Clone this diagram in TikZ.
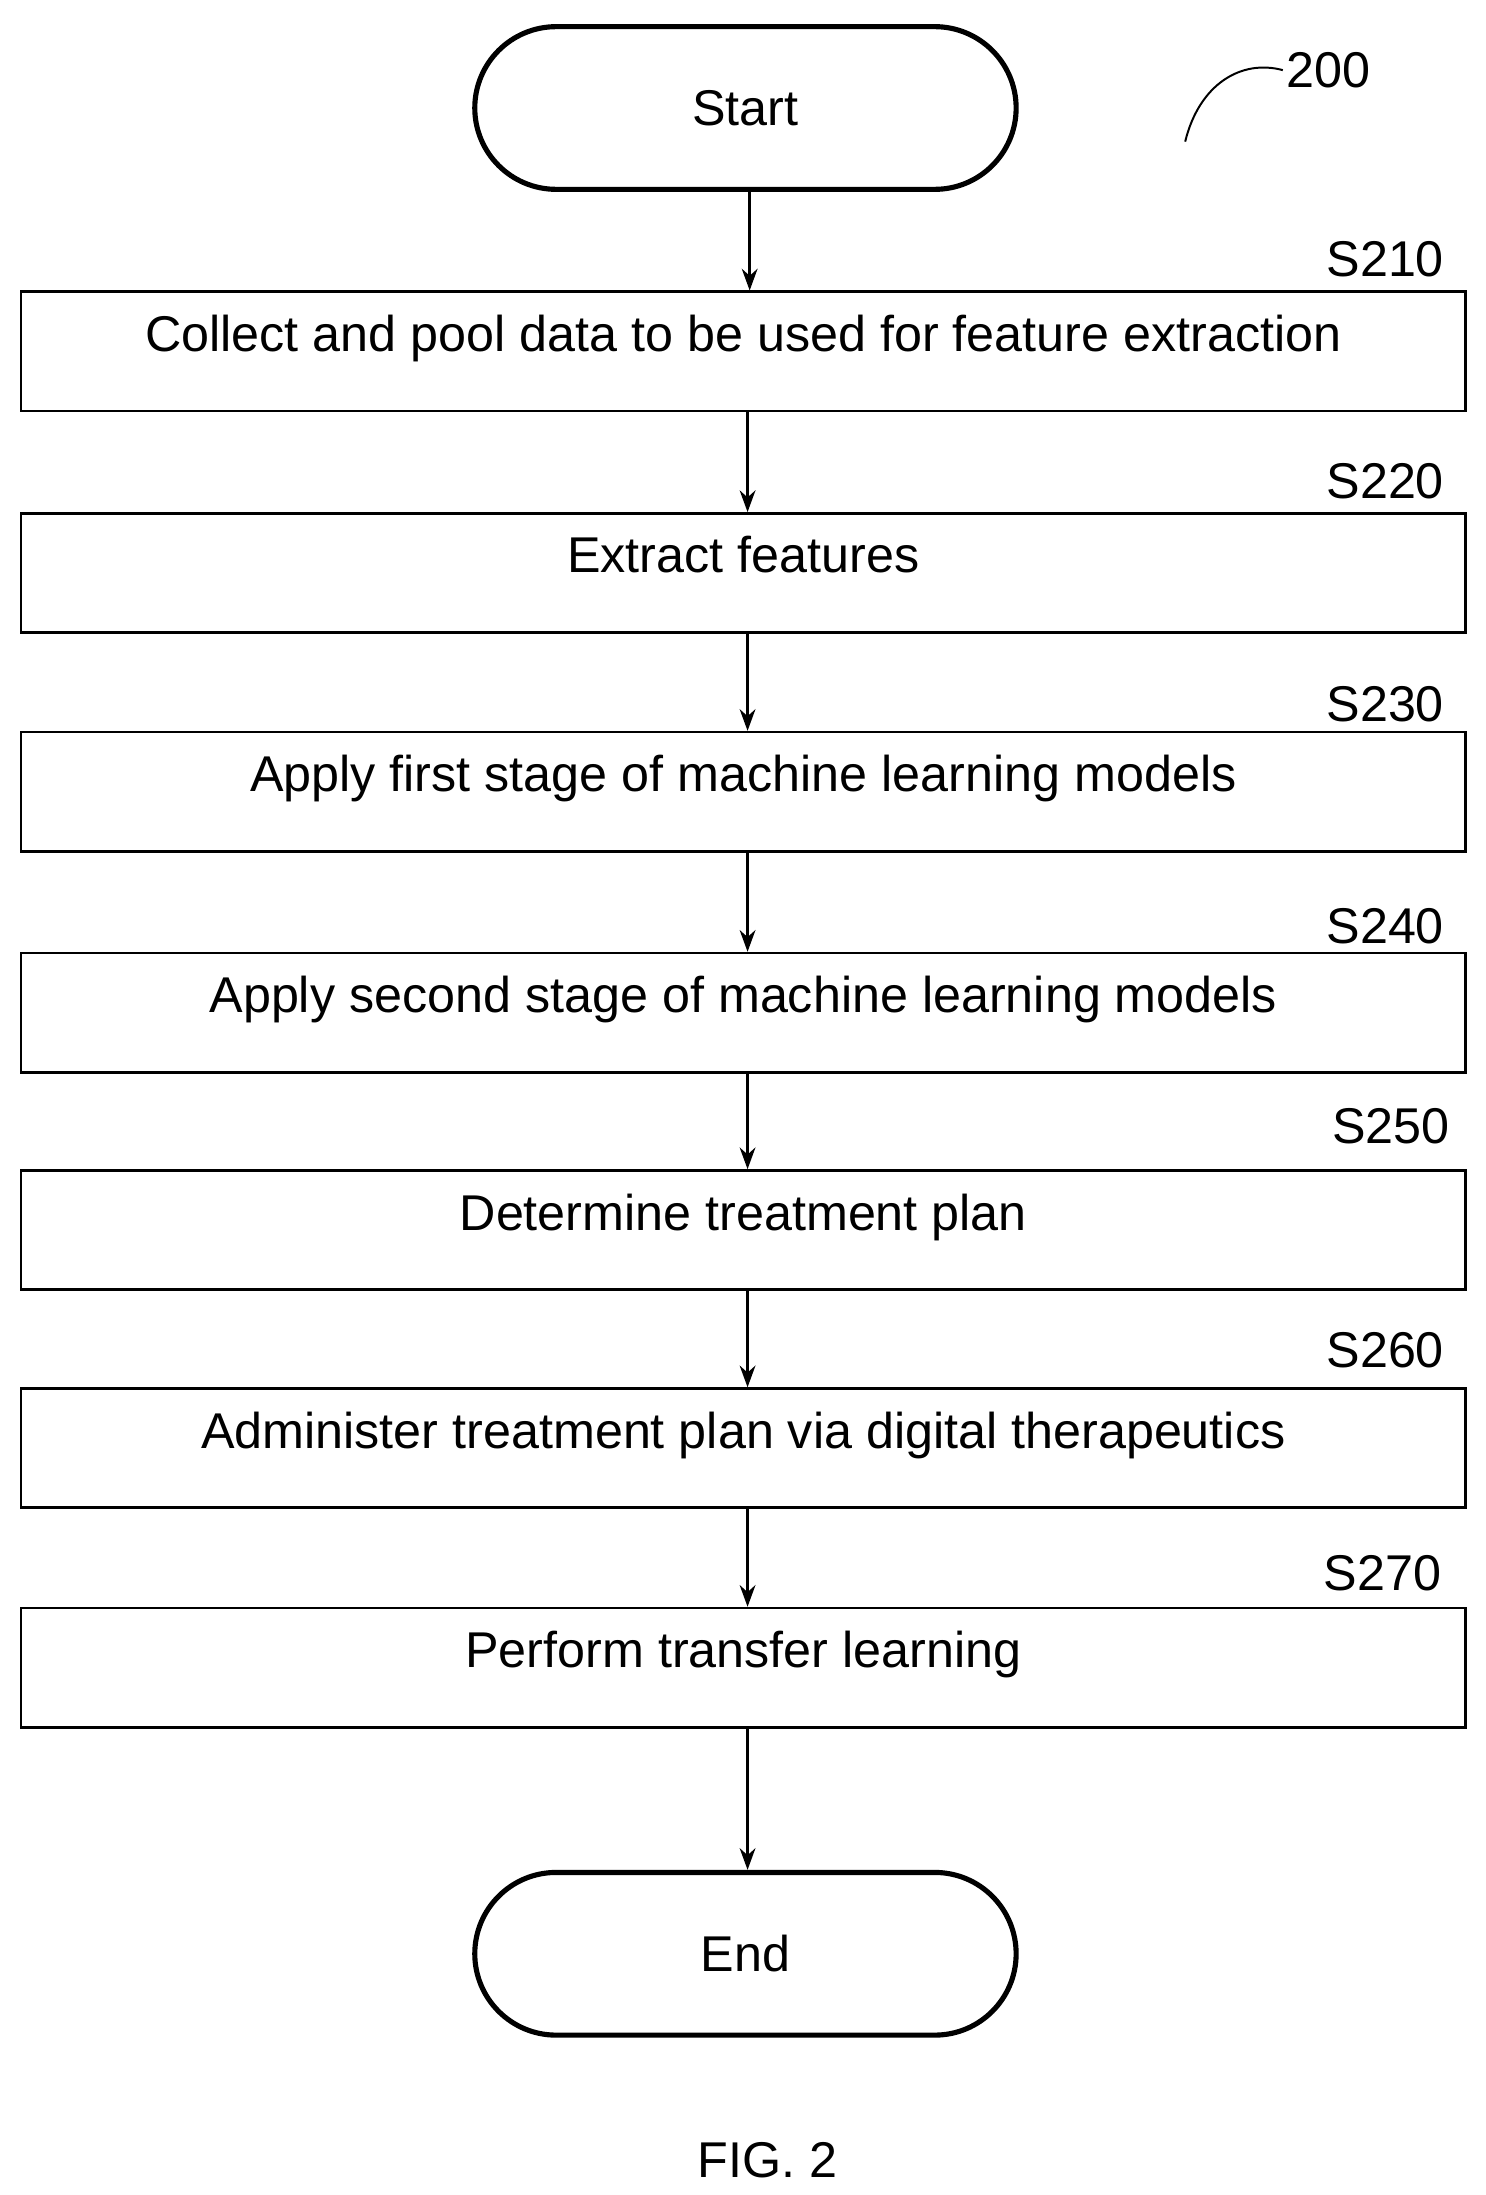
\documentclass[tikz,border=0pt]{standalone}
\usepackage{fontspec}
\setmainfont{Liberation Sans}
\usetikzlibrary{arrows.meta}
\begin{document}
\begin{tikzpicture}[x=0.05cm,y=-0.05cm,
  txt/.style={font=\fontsize{51}{60}\selectfont},
  box/.style={draw,line width=2.6pt,minimum width=51.5cm,minimum height=4.25cm,inner sep=0pt,txt,text depth=0.9cm,text height=0.9cm},
  pill/.style={draw,line width=5.2pt,rounded corners=2.9cm,minimum width=19.3cm,minimum height=5.8cm,txt},
  arr/.style={line width=2.6pt,-{Stealth[length=22pt,width=16pt]}},
  lab/.style={txt,anchor=east}]
\useasboundingbox (0,0) rectangle (1059,1565);
\node[pill] (st) at (531.5,77) {Start};
\node[box] (b1) at (530,250.5) {Collect and pool data to be used for feature extraction};
\node[box] (b2) at (530,408.5) {Extract features};
\node[box] (b3) at (530,564.5) {Apply first stage of machine learning models};
\node[box] (b4) at (530,722) {Apply second stage of machine learning models};
\node[box] (b5) at (530,877) {Determine treatment plan};
\node[box] (b6) at (530,1032.5) {Administer treatment plan via digital therapeutics};
\node[box] (b7) at (530,1189) {Perform transfer learning};
\node[pill] (en) at (531.5,1393) {End};
\foreach \a/\b in {st/b1,b1/b2,b2/b3,b3/b4,b4/b5,b5/b6,b6/b7,b7/en}
  \draw[arr] (\a.south) ++(3,0) coordinate (tmp) -- (tmp |- \b.north);
\node[lab] (l1) at (1032,185) {S210};
\node[lab] (l2) at (1032,343) {S220};
\node[lab] (l3) at (1032,502) {S230};
\node[lab] (l4) at (1032,660) {S240};
\node[lab] (l5) at (1036,803) {S250};
\node[lab] (l6) at (1032,963) {S260};
\node[lab] (l7) at (1030,1122) {S270};
\node[txt] (n200) at (947,50) {200};
\coordinate (c0) at (845,101);
\draw[line width=2pt] (c0) .. controls (855,60) and (885,42) .. (n200.west);
\node[txt] (fig) at (547,1540) {FIG. 2};
\end{tikzpicture}
\end{document}
